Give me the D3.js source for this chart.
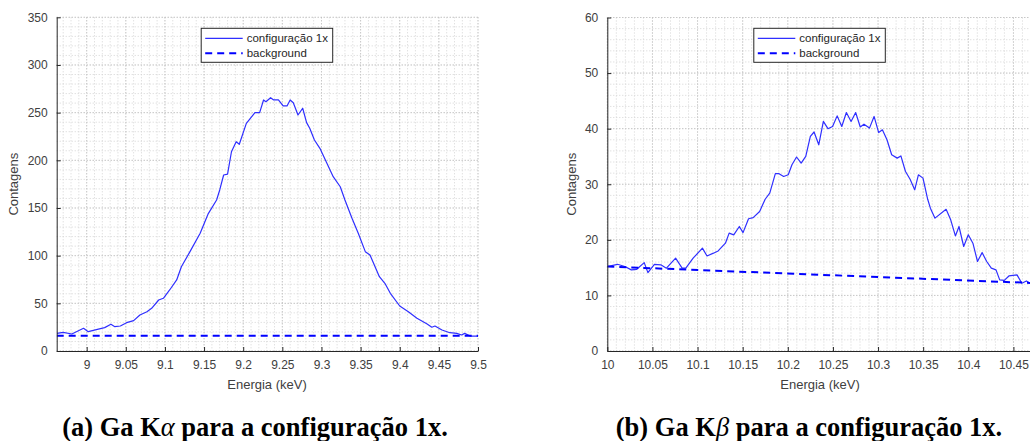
<!DOCTYPE html>
<html>
<head>
<meta charset="utf-8">
<script src="https://cdn.jsdelivr.net/npm/d3@7"></script>
<style>
  html, body { margin: 0; padding: 0; background: #fff; }
  svg { display: block; }
  .tick-label { font-family: "Liberation Sans", Arial, sans-serif; font-size: 12px; fill: #404040; }
  .axis-label { font-family: "Liberation Sans", Arial, sans-serif; font-size: 13px; fill: #404040; }
  .legend-text { font-family: "Liberation Sans", Arial, sans-serif; font-size: 11.5px; fill: #262626; }
  .caption { font-family: "Liberation Serif", "Times New Roman", serif; font-size: 26.5px; font-weight: bold; fill: #000; }
</style>
</head>
<body>
<svg id="fig" width="1030" height="441"></svg>
<script>
// Ga K-alpha spectrum, configuration 1x
const energyA = [8.962, 8.970, 8.981, 8.996, 9.002, 9.015, 9.023, 9.031, 9.036, 9.043,
  9.051, 9.060, 9.068, 9.077, 9.083, 9.092, 9.098, 9.106, 9.115, 9.121,
  9.132, 9.145, 9.155, 9.166, 9.170, 9.175, 9.180, 9.185, 9.191, 9.195,
  9.204, 9.215, 9.221, 9.226, 9.229, 9.235, 9.239, 9.245, 9.251, 9.256,
  9.260, 9.264, 9.270, 9.276, 9.281, 9.285, 9.291, 9.298, 9.305, 9.315,
  9.324, 9.330, 9.339, 9.347, 9.356, 9.362, 9.374, 9.381, 9.388, 9.400,
  9.411, 9.422, 9.435, 9.441, 9.445, 9.454, 9.464, 9.473, 9.479, 9.483,
  9.490, 9.500];
const countsA = [18.5, 19.6, 17.8, 23.8, 20.3, 23.0, 24.5, 28.0, 25.5, 26.2,
  29.7, 31.8, 37.8, 41.2, 44.8, 53.5, 55.3, 64.0, 74.5, 88.4,
  104.2, 123.5, 143.5, 158.4, 168.9, 184.6, 185.6, 209.0, 219.5, 216.8,
  238.8, 250.0, 250.0, 263.3, 261.5, 265.7, 263.3, 263.3, 257.0, 257.0,
  263.3, 260.4, 247.5, 254.6, 239.5, 233.6, 221.3, 212.6, 200.3, 182.8,
  172.3, 158.4, 139.2, 123.5, 104.2, 100.7, 77.9, 71.0, 60.5, 47.2,
  41.2, 34.3, 28.3, 24.9, 26.2, 22.0, 19.2, 18.5, 16.8, 18.5,
  15.7, 15.7];
const bgEnergyA = [8.9617, 9.5];
const bgCountsA = [16.0, 16.0];

// Ga K-beta spectrum, configuration 1x
const energyB = [10.0000, 10.0113, 10.0194, 10.0266, 10.0327, 10.0409, 10.0450, 10.0522, 10.0593, 10.0655,
  10.0757, 10.0829, 10.0870, 10.0951, 10.1054, 10.1105, 10.1176, 10.1228, 10.1309, 10.1350,
  10.1401, 10.1463, 10.1504, 10.1565, 10.1616, 10.1688, 10.1749, 10.1800, 10.1862, 10.1903,
  10.1954, 10.2005, 10.2046, 10.2097, 10.2148, 10.2199, 10.2250, 10.2291, 10.2343, 10.2394,
  10.2445, 10.2496, 10.2547, 10.2598, 10.2649, 10.2701, 10.2752, 10.2803, 10.2844, 10.2905,
  10.2956, 10.3007, 10.3048, 10.3099, 10.3151, 10.3212, 10.3253, 10.3304, 10.3355, 10.3406,
  10.3447, 10.3498, 10.3550, 10.3580, 10.3631, 10.3754, 10.3805, 10.3857, 10.3897, 10.3949,
  10.4000, 10.4051, 10.4102, 10.4153, 10.4204, 10.4255, 10.4307, 10.4348, 10.4399, 10.4450,
  10.4540, 10.4593, 10.4644, 10.4685];
const countsB = [15.2, 15.6, 15.2, 14.6, 14.7, 15.9, 14.1, 15.6, 15.5, 14.9,
  16.7, 14.9, 14.9, 16.7, 18.5, 17.1, 17.6, 18.0, 19.4, 21.2,
  20.9, 22.4, 21.3, 23.8, 24.0, 25.1, 27.3, 28.4, 31.9, 31.9,
  31.4, 31.7, 33.5, 34.9, 33.8, 35.0, 38.6, 39.4, 37.1, 41.3,
  40.0, 40.4, 42.3, 40.4, 42.9, 41.3, 42.9, 40.3, 40.8, 40.1,
  42.2, 39.3, 39.8, 38.0, 35.3, 34.7, 35.1, 32.3, 30.9, 29.0,
  31.7, 31.1, 27.3, 25.7, 23.9, 25.5, 23.6, 20.7, 22.4, 18.8,
  20.9, 19.4, 16.1, 17.7, 16.1, 14.9, 14.6, 12.8, 12.7, 13.5,
  13.7, 12.2, 12.6, 12.2];
const bgEnergyB = [10.0, 10.5];
const bgCountsB = [15.2, 12.05];

// Tick values and labels
const xTicksA = [9, 9.05, 9.1, 9.15, 9.2, 9.25, 9.3, 9.35, 9.4, 9.45, 9.5];
const yTicksA = [0, 50, 100, 150, 200, 250, 300, 350];
const xTicksB = [10, 10.05, 10.1, 10.15, 10.2, 10.25, 10.3, 10.35, 10.4, 10.45];
const yTicksB = [0, 10, 20, 30, 40, 50, 60];
const legendLabels = ["configuração 1x", "background"];
const xLabel = "Energia (keV)";
const yLabel = "Contagens";

const svg = d3.select("#fig");

function panel(opts) {
  const { left, right, top, bottom, xDomain, yDomain, xTicks, yTicks, xLabelCenter, yLabelOffset,
          xMinorStep, yMinorStep, energy, counts, bgE, bgC, legendX, id, captionX, caption } = opts;
  const x = d3.scaleLinear().domain(xDomain).range([left, right]);
  const y = d3.scaleLinear().domain(yDomain).range([bottom, top]);
  const g = svg.append("g");

  g.append("clipPath").attr("id", id)
    .append("rect").attr("x", left).attr("y", top - 1)
    .attr("width", right - left).attr("height", bottom - top + 2);

  // grid: minor lines every xMinorStep / yMinorStep, major lines at the ticks
  const xMinor = d3.range(Math.ceil(xDomain[0] / xMinorStep - 1e-6), Math.floor(xDomain[1] / xMinorStep + 1e-6) + 1)
    .map(k => +(k * xMinorStep).toFixed(4));
  const yMinor = d3.range(0, Math.round((yDomain[1] - yDomain[0]) / yMinorStep) + 1)
    .map(k => yDomain[0] + k * yMinorStep);
  const grid = g.append("g");
  grid.selectAll(".gxm").data(xMinor).join("line")
    .attr("x1", d => x(d)).attr("x2", d => x(d)).attr("y1", top).attr("y2", bottom)
    .attr("stroke", "#d4d4d4").attr("stroke-width", 1).attr("stroke-dasharray", "1,2");
  grid.selectAll(".gym").data(yMinor).join("line")
    .attr("x1", left).attr("x2", right).attr("y1", d => y(d)).attr("y2", d => y(d))
    .attr("stroke", "#d4d4d4").attr("stroke-width", 1).attr("stroke-dasharray", "1,2");
  grid.selectAll(".gx").data(xTicks).join("line")
    .attr("x1", d => x(d)).attr("x2", d => x(d)).attr("y1", top).attr("y2", bottom)
    .attr("stroke", "#bdbdbd").attr("stroke-width", 1).attr("stroke-dasharray", "1,2");
  grid.selectAll(".gy").data(yTicks).join("line")
    .attr("x1", left).attr("x2", right).attr("y1", d => y(d)).attr("y2", d => y(d))
    .attr("stroke", "#bdbdbd").attr("stroke-width", 1).attr("stroke-dasharray", "1,2");

  // spectrum and background
  const pts = energy.map((e, i) => [e, counts[i]]);
  const bg = bgE.map((e, i) => [e, bgC[i]]);
  const line = d3.line().x(d => x(d[0])).y(d => y(d[1]));
  const plot = g.append("g").attr("clip-path", `url(#${id})`);
  plot.append("path").datum(pts).attr("d", line)
    .attr("fill", "none").attr("stroke", "#2f2fff").attr("stroke-width", 1.2)
    .attr("stroke-linejoin", "round");
  plot.append("path").datum(bg).attr("d", line)
    .attr("fill", "none").attr("stroke", "#0000ff").attr("stroke-width", 2)
    .attr("stroke-dasharray", "7,5");

  // axes (left and bottom only, inward ticks)
  const xAxis = d3.axisBottom(x).tickValues(xTicks).tickSizeInner(-4).tickSizeOuter(0)
    .tickPadding(9).tickFormat(d3.format("~g"));
  const yAxis = d3.axisLeft(y).tickValues(yTicks).tickSizeInner(-4).tickSizeOuter(0)
    .tickPadding(9).tickFormat(d3.format("~g"));
  const ax = g.append("g").attr("transform", `translate(0,${bottom})`).call(xAxis);
  const ay = g.append("g").attr("transform", `translate(${left},0)`).call(yAxis);
  [ax, ay].forEach(a => {
    a.attr("font-family", null).attr("font-size", null);
    a.select(".domain").attr("stroke", "#262626").attr("stroke-width", 1);
    a.selectAll(".tick line").attr("stroke", "#262626");
    a.selectAll(".tick text").attr("class", "tick-label");
  });

  g.append("text").attr("class", "axis-label")
    .attr("x", xLabelCenter).attr("y", bottom + 38)
    .attr("text-anchor", "middle").text(xLabel);
  g.append("text").attr("class", "axis-label")
    .attr("transform", `translate(${left - yLabelOffset},${(top + bottom) / 2}) rotate(-90)`)
    .attr("text-anchor", "middle").text(yLabel);

  // legend
  const lg = g.append("g").attr("transform", `translate(${legendX},28.3)`);
  lg.append("rect").attr("width", 131.5).attr("height", 34).attr("fill", "#fff")
    .attr("stroke", "#262626").attr("stroke-width", 1);
  lg.append("line").attr("x1", 4).attr("x2", 41.5).attr("y1", 10).attr("y2", 10)
    .attr("stroke", "#2f2fff").attr("stroke-width", 1.2);
  lg.append("line").attr("x1", 4).attr("x2", 41.5).attr("y1", 25).attr("y2", 25)
    .attr("stroke", "#0000ff").attr("stroke-width", 2).attr("stroke-dasharray", "7,5");
  lg.selectAll(".lt").data(legendLabels).join("text").attr("class", "legend-text")
    .attr("x", 45.5).attr("y", (d, i) => 14 + i * 15).text(d => d);

  // caption
  const cap = g.append("text").attr("class", "caption").attr("x", captionX).attr("y", 435.5)
    .attr("text-anchor", "middle");
  cap.append("tspan").text(caption[0]);
  cap.append("tspan").attr("font-style", "italic").attr("font-weight", "normal").text(caption[1]);
  cap.append("tspan").text(caption[2]);
}

panel({
  id: "clipA", left: 56.7, right: 478, top: 17.3, bottom: 351,
  xDomain: [8.9617, 9.5], yDomain: [0, 350], xTicks: xTicksA, yTicks: yTicksA,
  xLabelCenter: 267, yLabelOffset: 38.5,
  xMinorStep: 0.01, yMinorStep: 10, energy: energyA, counts: countsA,
  bgE: bgEnergyA, bgC: bgCountsA, legendX: 201.2, captionX: 255,
  caption: ["(a) Ga K", "α", " para a configuração 1x."]
});

panel({
  id: "clipB", left: 607.3, right: 607.3 + 902.5 * 0.5, top: 17.5, bottom: 351,
  xDomain: [10, 10.5], yDomain: [0, 60], xTicks: xTicksB, yTicks: yTicksB,
  xLabelCenter: 820, yLabelOffset: 31.5,
  xMinorStep: 0.01, yMinorStep: 2, energy: energyB, counts: countsB,
  bgE: bgEnergyB, bgC: bgCountsB, legendX: 753.8, captionX: 809,
  caption: ["(b) Ga K", "β", " para a configuração 1x."]
});
</script>
</body>
</html>
